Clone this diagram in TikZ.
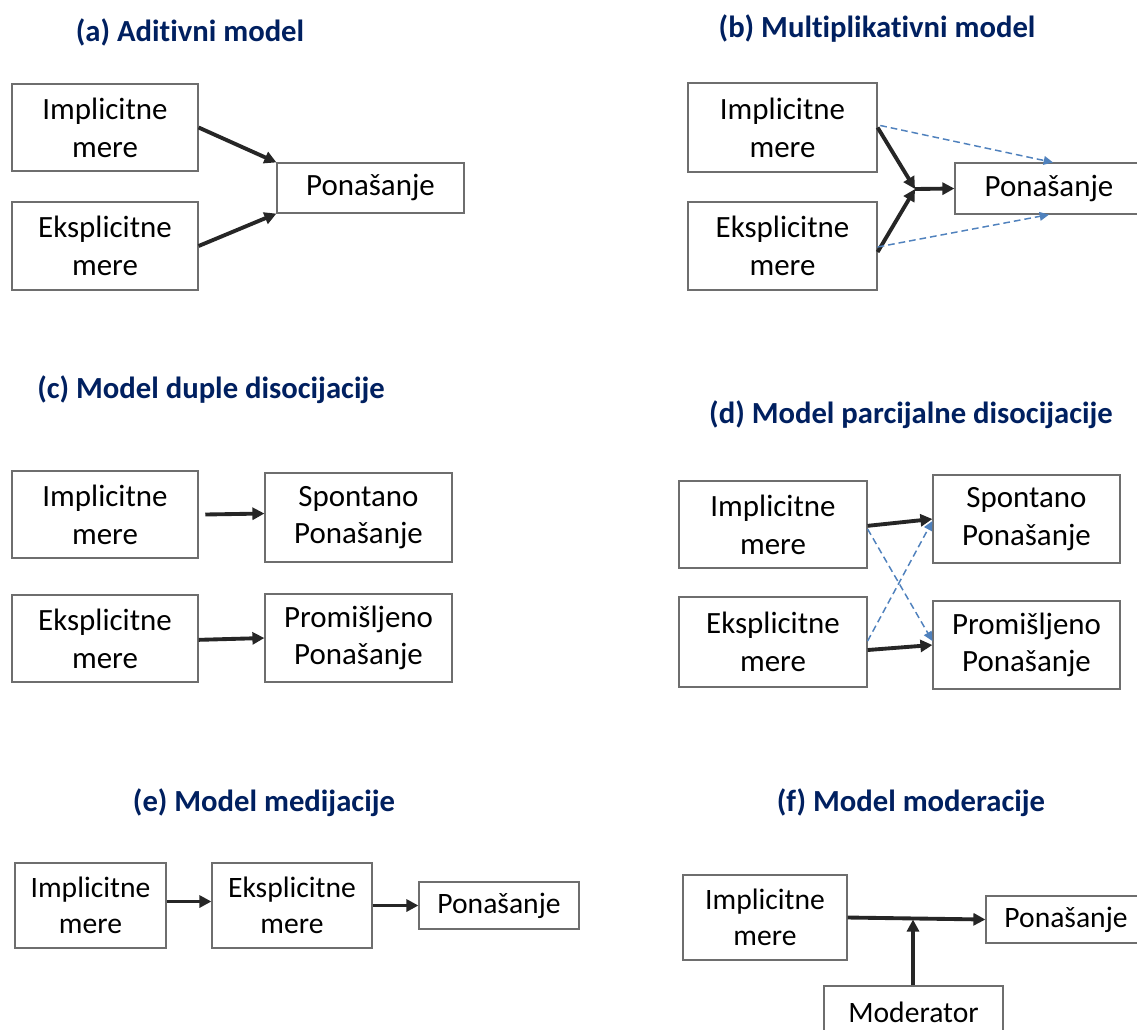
\documentclass[tikz,border=0pt]{standalone}
\usepackage{fontspec}
\setmainfont{Carlito}[Ligatures=NoCommon]
\usetikzlibrary{arrows.meta}
\definecolor{titleblue}{HTML}{002060}
\definecolor{boxgray}{HTML}{6E6E6E}
\definecolor{arrowdark}{HTML}{262626}
\definecolor{dashblue}{HTML}{4F81BD}
\tikzset{
  box/.style={draw=boxgray, line width=0.9pt, inner sep=0pt, align=center, font=\fontsize{23.2}{28.3}\selectfont},
  boxs/.style={box, font=\fontsize{22.2}{27.2}\selectfont},
  ttl/.style={font=\fontsize{23}{28}\selectfont\bfseries, text=titleblue, inner sep=0pt},
  thick arrow/.style={draw=arrowdark, line width=2.9pt, -{Triangle[length=9pt,width=9pt]}},
  dash arrow/.style={draw=dashblue, line width=1.1pt, dash pattern=on 5pt off 3pt, -{Triangle[length=7pt,width=6.5pt]}},
}
\begin{document}
\begin{tikzpicture}[x=0.75pt, y=-0.75pt]
\useasboundingbox (0,0) rectangle (1137,1029);
\clip (0,0) rectangle (1137,1029);
\fill[white] (0,0) rectangle (1137,1029);

% ---- (a)
\node[ttl] (ta) at (190,32) {(a) Aditivni model};
\node[box, minimum width=139.5pt, minimum height=65.25pt] (a1) at (105,127.5) {Implicitne\\mere};
\node[box, minimum width=139.5pt, minimum height=66pt] (a2) at (105,246) {Eksplicitne\\mere};
\node[box, minimum width=140.25pt, minimum height=37.5pt] (a3) at (370.5,188) {Ponašanje};
\draw[thick arrow] (a1.east) -- (a3.north west);
\draw[thick arrow] (a2.east) -- (a3.south west);

% ---- (b)
\node[ttl] (tb) at (877,29) {(b) Multiplikativni model};
\node[box, minimum width=141.75pt, minimum height=66.75pt] (b1) at (782.5,127.5) {Implicitne\\mere};
\node[box, minimum width=141.75pt, minimum height=66pt] (b2) at (782.5,246) {Eksplicitne\\mere};
\node[box, minimum width=141pt, minimum height=38.25pt] (b3) at (1049,188.5) {Ponašanje};
\coordinate (bj) at (915,189);
\draw[thick arrow] (b1.east) -- (bj);
\draw[thick arrow] ([yshift=-4.5pt]b2.east) -- (bj);
\draw[thick arrow] (bj) -- (b3.west);
\draw[dash arrow] ([xshift=2pt,yshift=1.5pt]b1.east) -- ([xshift=3pt]b3.north);
\draw[dash arrow] ([yshift=-0.75pt]b2.east) -- (b3.south);

% ---- (c)
\node[ttl] (tc) at (211,390) {(c) Model duple disocijacije};
\node[box, minimum width=139.5pt, minimum height=65.25pt] (c1) at (105,514.5) {Implicitne\\mere};
\node[box, minimum width=140.25pt, minimum height=66.75pt] (c2) at (358.5,517.5) {Spontano\\Ponašanje};
\node[box, minimum width=139.5pt, minimum height=65.25pt] (c3) at (105,638.5) {Eksplicitne\\mere};
\node[box, minimum width=140.25pt, minimum height=66pt] (c4) at (358.5,638) {Promišljeno\\Ponašanje};
\draw[thick arrow] ([xshift=5pt]c1.east) -- ([yshift=3pt]c2.west);
\draw[thick arrow] ([yshift=-1pt]c3.east) -- (c4.west);

% ---- (d)
\node[ttl] (td) at (911,415) {(d) Model parcijalne disocijacije};
\node[box, minimum width=141pt, minimum height=65.25pt] (d1) at (773,524.5) {Implicitne\\mere};
\node[box, minimum width=140.25pt, minimum height=66pt] (d2) at (1026.5,519) {Spontano\\Ponašanje};
\node[box, minimum width=141pt, minimum height=67.5pt] (d3) at (773,642) {Eksplicitne\\mere};
\node[box, minimum width=140.25pt, minimum height=66pt] (d4) at (1026.5,645) {Promišljeno\\Ponašanje};
\draw[thick arrow] ([yshift=-1pt]d1.east) -- (d2.west);
\draw[thick arrow] ([yshift=-6pt]d3.east) -- (d4.west);
\draw[dash arrow] ([yshift=-3.4pt]d1.east) -- ([yshift=3pt]d4.west);
\draw[dash arrow] ([yshift=0.75pt]d3.east) -- ([yshift=-1.5pt]d2.west);

% ---- (e)
\node[ttl] (te) at (264,803) {(e) Model medijacije};
\node[boxs, minimum width=113.25pt, minimum height=63.75pt] (e1) at (90.5,905.5) {Implicitne\\mere};
\node[boxs, minimum width=120pt, minimum height=63.75pt] (e2) at (292,905.5) {Eksplicitne\\mere};
\node[boxs, minimum width=120pt, minimum height=35.25pt] (e3) at (499,905.5) {Ponašanje};
\draw[thick arrow] ([yshift=3pt]e1.east) -- ([yshift=3pt]e2.west);
\draw[thick arrow] (e2.east) -- (e3.west);

% ---- (f)
\node[ttl] (tf) at (911,803) {(f) Model moderacije};
\node[boxs, minimum width=123pt, minimum height=63.75pt] (f1) at (765,917.5) {Implicitne\\mere};
\node[boxs, minimum width=120pt, minimum height=35.25pt] (f2) at (1066,919.5) {Ponašanje};
\node[boxs, minimum width=134.25pt, minimum height=39pt] (f3) at (913.5,1012) {Moderator};
\coordinate (fm) at (913,919.5);
\draw[thick arrow] (f1.east) -- (f2.west);
\draw[thick arrow] (f3.north -| fm) -- (fm);
\end{tikzpicture}
\end{document}
